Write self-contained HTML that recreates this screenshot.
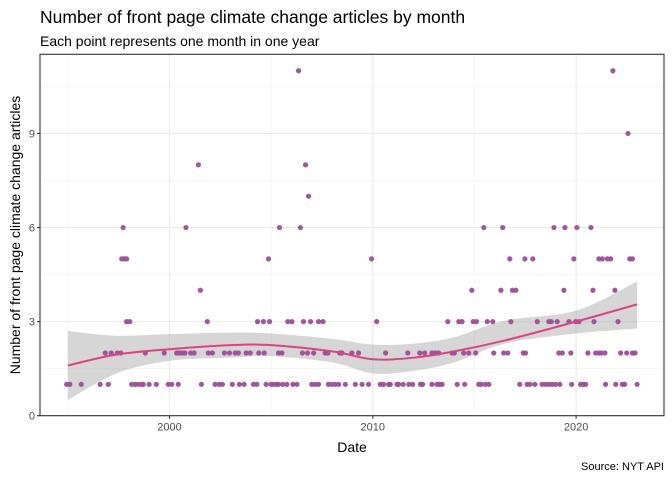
<!DOCTYPE html>
<html><head><meta charset="utf-8"><style>
body{margin:0;background:#fff;}
svg{display:block;font-family:"Liberation Sans",Arial,sans-serif;}
</style></head><body>
<svg id="chart" width="672" height="480" viewBox="0 0 672 480">
<rect x="0" y="0" width="672" height="480" fill="#fff"/>
<text x="40" y="23" font-size="17.5" fill="#000">Number of front page climate change articles by month</text>
<text x="40" y="46" font-size="14" fill="#000">Each point represents one month in one year</text>
<g id="grid"></g>
<g id="band"></g>
<g id="pts"></g>
<g id="fit"></g>
<g id="axes"></g>
<text x="352" y="452" font-size="14" text-anchor="middle" fill="#000">Date</text>
<text transform="translate(20,235) rotate(-90)" font-size="14" text-anchor="middle" fill="#000">Number of front page climate change articles</text>
<text x="664" y="470" font-size="11" text-anchor="end" fill="#000">Source: NYT API</text>
</svg>
<script>
const yTicks=[0,3,6,9];
const yMinor=[1.5,4.5,7.5,10.5];
const xTicks=[2000,2010,2020];
const xMinor=[1995,2005,2015];
const c1=[1994.94,1995.10,1995.66,1996.59,1996.99,1998.14,1998.30,1998.46,1998.63,1998.71,1999.0,1999.35,1999.94,2000.11,2000.43,2001.57,2002.24,2002.44,2002.60,2003.09,2003.44,2003.67,2004.13,2004.30,
2004.75,2004.99,2005.11,2005.25,2005.36,2005.57,2005.77,2006.07,2006.27,2007.00,2007.17,2007.33,2007.82,2007.99,2008.15,2008.32,2008.65,2009.14,2009.47,2009.79,2010.37,2010.53,2010.78,2010.86,2011.19,2011.27,2011.49,2011.77,2011.96,2012.34,2012.45,2012.91,2013.16,2013.28,2013.41,2014.15,2014.52,
2015.21,2015.33,2015.54,2015.71,2017.23,2017.59,2017.73,2017.97,2018.33,2018.50,2018.66,2018.83,2018.99,2019.20,2019.78,2020.22,2020.35,2020.47,2021.45,2021.95,2022.27,2022.39,2023.00];
const c2=[1996.84,1997.13,1997.43,1997.60,1998.81,1999.74,2000.35,2000.48,2000.62,2000.76,2001.04,2001.21,2001.91,2002.11,2002.70,2002.95,2003.23,2003.39,2003.77,2003.97,2004.39,
2004.66,2005.36,2005.53,2006.54,2006.79,2007.09,2007.66,2007.79,2008.37,2008.48,2008.97,2009.30,2010.63,2011.72,2012.31,2012.55,2012.91,2013.08,2013.24,2013.90,2014.01,2014.47,2014.72,
2015.06,2015.95,2016.44,2016.64,2017.40,2017.51,2019.15,2019.32,2019.74,2020.58,2020.96,2021.12,2021.24,2021.42,2022.19,2022.49,2022.77,2022.90];
const c3=[1997.89,1998.05,2001.86,2004.33,2004.62,2004.92,2005.82,2006.02,2006.59,2006.94,2007.33,2007.55,2010.19,2013.69,2014.23,2014.39,
2014.94,2015.10,2015.63,2015.90,2016.79,2018.09,2018.66,2018.78,2019.07,2019.65,2019.98,2020.14,2020.88,2022.06];
const c4=[2001.52,2014.87,2016.30,2016.87,2017.04,2019.40,2020.83,2021.91];
const c5=[1997.65,1997.78,1997.89,2004.87,2009.94,2016.74,2017.48,2017.87,2019.89,2021.12,2021.29,2021.54,2021.70,2022.64,2022.77];
const c6=[1997.72,2000.81,2005.41,2006.44,2015.46,2016.39,2018.91,2019.45,2020.04,2020.73];
const c7=[2006.84];
const c8=[2001.42,2006.69];
const c9=[2022.55];
const c11=[2006.35,2021.81];
const fitYears=[1995,1997.4,2000,2003,2005,2008,2010,2012,2014,2016.5,2020,2023];
const fitVals=[1.6,1.95,2.12,2.25,2.25,2.05,1.8,1.85,2.05,2.4,3.0,3.55];
const fitLow=[0.5,1.35,1.75,1.85,1.9,1.7,1.35,1.43,1.7,2.3,2.62,2.78];
const fitHigh=[2.7,2.55,2.6,2.65,2.62,2.45,2.27,2.3,2.5,3.03,3.35,4.28];
const NS="http://www.w3.org/2000/svg";
const L=40,R=664,T=54.3,B=415.7;
const x=v=>169.5+(v-2000)*20.33;
const y=v=>B-v*31.36;
function mk(p,tag,a){const e=document.createElementNS(NS,tag);for(const k in a)e.setAttribute(k,a[k]);p.appendChild(e);return e;}
function spline(P){let d='';for(let i=0;i<P.length-1;i++){const p0=P[i-1]||P[i],p1=P[i],p2=P[i+1],p3=P[i+2]||P[i+1];
const a=[p1[0]+(p2[0]-p0[0])/6,p1[1]+(p2[1]-p0[1])/6],b=[p2[0]-(p3[0]-p1[0])/6,p2[1]-(p3[1]-p1[1])/6];
d+=' C'+a[0]+','+a[1]+' '+b[0]+','+b[1]+' '+p2[0]+','+p2[1];}return d;}
const grid=document.getElementById('grid');
yMinor.forEach(v=>{const e=mk(grid,'line',{x1:L,x2:R,y1:y(v),y2:y(v),stroke:'#f0f0f0','stroke-width':0.6});

});
xMinor.forEach(v=>{const e=mk(grid,'line',{x1:x(v),x2:x(v),y1:T,y2:B,stroke:'#f0f0f0','stroke-width':0.6});

});
yTicks.forEach(v=>{const e=mk(grid,'line',{x1:L,x2:R,y1:y(v),y2:y(v),stroke:'#ebebeb','stroke-width':1.1});

});
xTicks.forEach(v=>{const e=mk(grid,'line',{x1:x(v),x2:x(v),y1:T,y2:B,stroke:'#ebebeb','stroke-width':1.1});

});
// band
const hi=fitYears.map((t,i)=>[x(t),y(fitHigh[i])]);
const lo=fitYears.map((t,i)=>[x(t),y(fitLow[i])]).reverse();
let d='M'+hi[0][0]+','+hi[0][1]+spline(hi)+' L'+lo[0][0]+','+lo[0][1]+spline(lo)+'Z';
const band=mk(document.getElementById('band'),'path',{d:d,fill:'#999',opacity:0.4});


// points
const pts=document.getElementById('pts');
[[1,c1],[2,c2],[3,c3],[4,c4],[5,c5],[6,c6],[7,c7],[8,c8],[9,c9],[11,c11]].forEach(([cnt,arr])=>{
arr.forEach(t=>{const e=mk(pts,'circle',{cx:x(t),cy:y(cnt),r:2.6,fill:'#9c4f96',opacity:0.95});

});});
// fit
const fp=fitYears.map((t,i)=>[x(t),y(fitVals[i])]);
const fl=mk(document.getElementById('fit'),'path',{d:'M'+fp[0][0]+','+fp[0][1]+spline(fp),fill:'none',stroke:'#d8457f','stroke-width':2});


// axes
const ax=document.getElementById('axes');
const fr=mk(ax,'rect',{x:L,y:T,width:R-L,height:B-T,fill:'none',stroke:'#333','stroke-width':1.1});


yTicks.forEach(v=>{const tk=mk(ax,'line',{x1:L-3,x2:L,y1:y(v),y2:y(v),stroke:'#333','stroke-width':1.1});


const t=mk(ax,'text',{x:L-5,y:y(v)+4,'font-size':11,'text-anchor':'end',fill:'#4d4d4d'});t.textContent=v;

});
xTicks.forEach(v=>{const tk=mk(ax,'line',{x1:x(v),x2:x(v),y1:B,y2:B+3,stroke:'#333','stroke-width':1.1});


const t=mk(ax,'text',{x:x(v),y:B+15,'font-size':11,'text-anchor':'middle',fill:'#4d4d4d'});t.textContent=v;

});
</script>
</body></html>
